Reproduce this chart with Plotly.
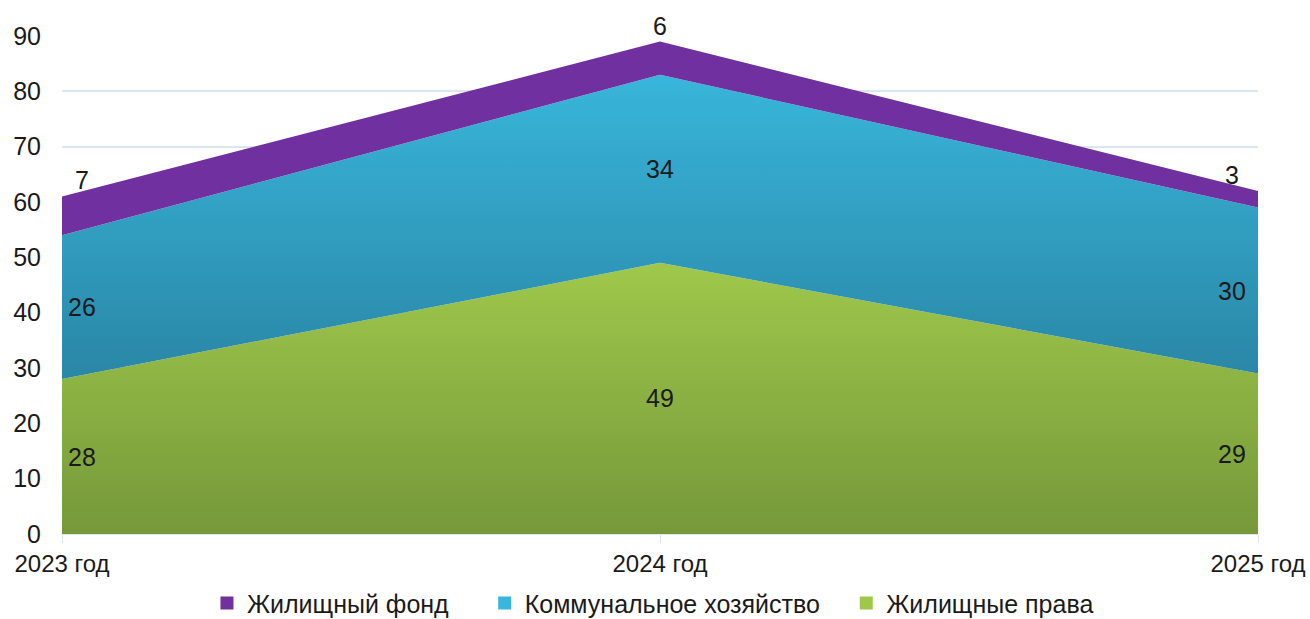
import plotly.graph_objects as go

years = ["2023 год", "2024 год", "2025 год"]
housing_rights = [28, 49, 29]      # Жилищные права
utilities = [26, 34, 30]           # Коммунальное хозяйство
housing_stock = [7, 6, 3]          # Жилищный фонд

y_ticks = [0, 10, 20, 30, 40, 50, 60, 70, 80, 90]

FONT = "Liberation Sans, Arial, sans-serif"
FS = 25

series = [
    ("Жилищные права", housing_rights, "#76983a", "#9fc84b"),
    ("Коммунальное хозяйство", utilities, "#2a86a6", "#38b6db"),
    ("Жилищный фонд", housing_stock, "#7030a0", "#7030a0"),
]

fig = go.Figure()

base = [0] * len(years)
for name, vals, dark, light in series:
    top = [b + v for b, v in zip(base, vals)]
    fig.add_trace(go.Scatter(
        x=years, y=vals, name=name, stackgroup="one", mode="none",
        fillgradient=dict(type="vertical", start=min(base), stop=max(top),
                          colorscale=[[0, dark], [1, light]]),
        fillcolor=light, showlegend=False, hoverinfo="skip",
    ))
    base = top

# legend squares, one legend per entry so they can be spaced like the original
legend_x = {"Жилищный фонд": 0.158, "Коммунальное хозяйство": 0.370,
            "Жилищные права": 0.646}
legend_ids = {"Жилищный фонд": "legend", "Коммунальное хозяйство": "legend2",
              "Жилищные права": "legend3"}
for name, vals, dark, light in series:
    fig.add_trace(go.Scatter(
        x=[None], y=[None], name=name, mode="markers", legend=legend_ids[name],
        marker=dict(symbol="square", size=13, color=light,
                    line=dict(width=0)),
    ))

# data labels
shifts = [20, 0, -26]
base = [0] * len(years)
for k, (name, vals, dark, light) in enumerate(series):
    for i, (yr, v) in enumerate(zip(years, vals)):
        if k == len(series) - 1:
            y, ysh = base[i] + v, 16
        else:
            y, ysh = base[i] + v / 2, 0
        fig.add_annotation(x=yr, y=y, text=str(v), showarrow=False,
                           xshift=shifts[i], yshift=ysh,
                           font=dict(family=FONT, size=FS, color="#1a1a1a"))
    base = [b + v for b, v in zip(base, vals)]

leg_common = dict(orientation="h", xanchor="left", xref="container",
                  yref="paper", y=-0.139, yanchor="middle",
                  font=dict(family=FONT, size=FS, color="#1a1a1a"),
                  itemwidth=30, bgcolor="rgba(0,0,0,0)")
fig.update_layout(
    width=1310, height=619,
    margin=dict(l=62, r=52, t=36, b=85, autoexpand=False),
    paper_bgcolor="white", plot_bgcolor="white",
    font=dict(family=FONT, size=FS, color="#1a1a1a"),
    legend=dict(leg_common, x=legend_x["Жилищный фонд"]),
    legend2=dict(leg_common, x=legend_x["Коммунальное хозяйство"]),
    legend3=dict(leg_common, x=legend_x["Жилищные права"]),
)
fig.update_xaxes(type="category", range=[0, 2], showgrid=False,
                 ticks="outside", ticklen=8, tickcolor="#dce6f2",
                 showline=True, linecolor="#dce6f2", zeroline=False,
                 tickfont=dict(size=24), automargin=False)
fig.update_yaxes(range=[0, 90], tickvals=y_ticks, showgrid=True,
                 gridcolor="#dce6f2", gridwidth=1.5, zeroline=False,
                 ticklabelstandoff=20, automargin=False)

# page body has a default 8px margin that adds scrollbars; drop it
fig.write_html("out.html", config={"displayModeBar": False},
               post_script="document.body.style.margin='0';"
                           "document.body.style.overflow='hidden';")
